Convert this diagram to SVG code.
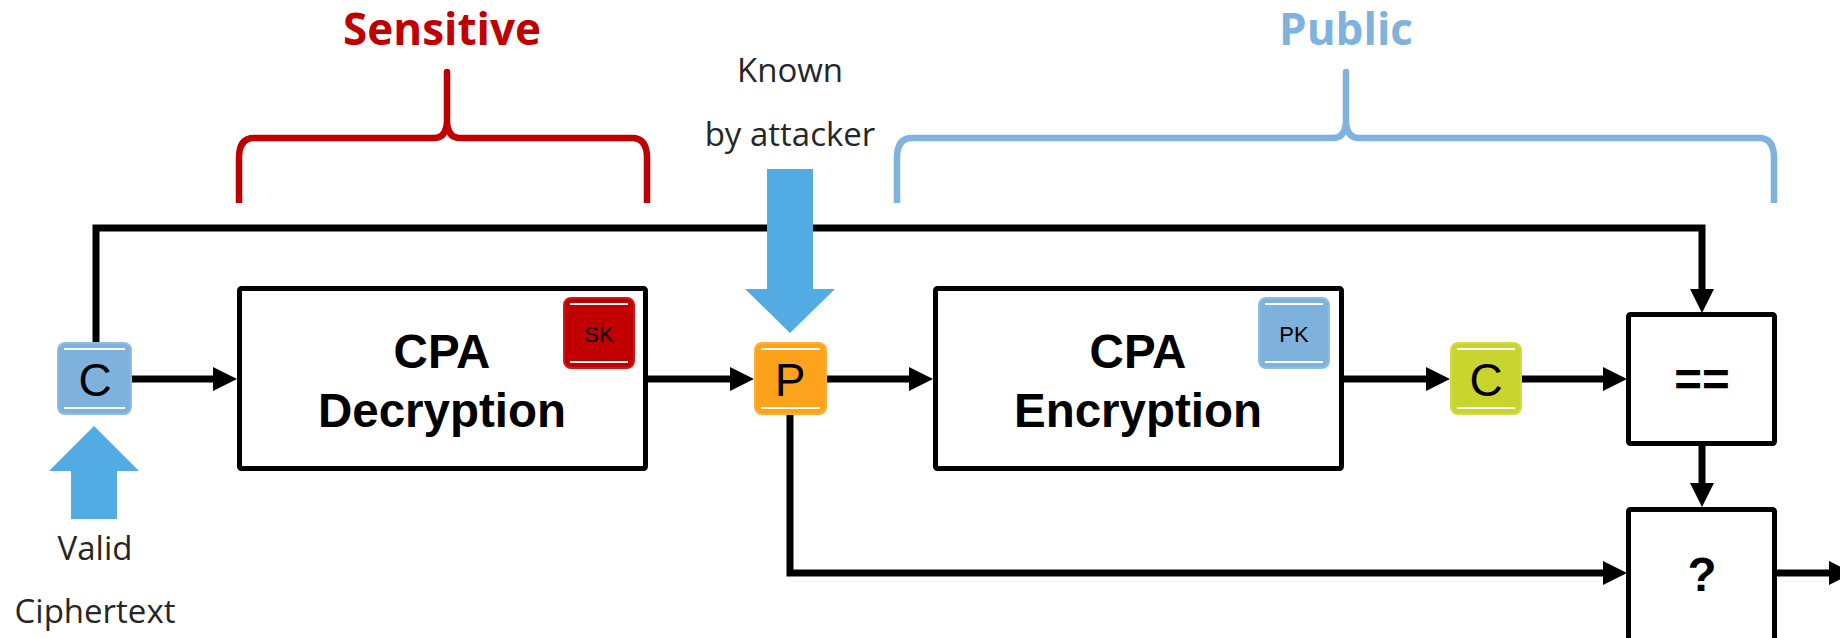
<svg xmlns="http://www.w3.org/2000/svg" width="1840" height="638" viewBox="0 0 1840 638">
<defs>
<style>
.conn{fill:none;stroke:#000;stroke-width:7;stroke-linejoin:miter}
.box{fill:#fff;stroke:#000;stroke-width:5;stroke-linejoin:round}
.big{font-family:"Liberation Sans",Arial,sans-serif;font-weight:bold;font-size:47.5px;text-anchor:middle;fill:#000}
.tok{font-family:"Liberation Sans",Arial,sans-serif;font-size:46px;text-anchor:middle;fill:#000}
.key{font-family:"Liberation Sans",Arial,sans-serif;font-size:22px;text-anchor:middle;fill:#000}
.note{font-family:"Open Sans","DejaVu Sans",sans-serif;font-size:33px;text-anchor:middle;fill:#262626}
.head{font-family:"Open Sans","DejaVu Sans",sans-serif;font-weight:bold;font-size:44px;text-anchor:middle}
.brace{fill:none;stroke-width:6.5;stroke-linejoin:round}
.wl{stroke:#fff;stroke-width:1.8}
.bluearrow{fill:#52ACE3}
</style>
<marker id="ah" markerUnits="userSpaceOnUse" markerWidth="24" markerHeight="24" refX="4" refY="12" orient="auto" viewBox="0 0 24 24">
<path d="M0,0 L24,12 L0,24 z" fill="#000"/>
</marker>
</defs>
<rect width="1840" height="638" fill="#fff"/>

<!-- braces and headings -->
<g id="sensitive">
<text class="head" x="442" y="45" fill="#C00000">Sensitive</text>
<path class="brace" stroke="#C00000" d="M239,203 V158 Q239,138 254,138 H434 Q446,138 447,122 V72 V122 Q448,138 460,138 H632 Q647,138 647,158 V203"/>
</g>
<g id="public">
<text class="head" x="1346" y="45" fill="#7FB2DC">Public</text>
<path class="brace" stroke="#7FB2DC" d="M897,203 V158 Q897,138 912,138 H1333 Q1345,138 1346,122 V72 V122 Q1347,138 1359,138 H1759 Q1774,138 1774,158 V203"/>
</g>

<!-- connectors -->
<g id="connectors">
<path class="conn" d="M96,346 V228 H1702 V293" marker-end="url(#ah)"/>
<path class="conn" d="M131,379 H217" marker-end="url(#ah)"/>
<path class="conn" d="M648,379 H734" marker-end="url(#ah)"/>
<path class="conn" d="M826,379 H913" marker-end="url(#ah)"/>
<path class="conn" d="M1344,379 H1430" marker-end="url(#ah)"/>
<path class="conn" d="M1521,379 H1607" marker-end="url(#ah)"/>
<path class="conn" d="M1702,446 V487" marker-end="url(#ah)"/>
<path class="conn" d="M790,412 V573 H1607" marker-end="url(#ah)"/>
<path class="conn" d="M1777,573 H1833" marker-end="url(#ah)"/>
</g>

<!-- inputs -->
<g id="valid-ciphertext">
<polygon class="bluearrow" points="94,426 139,471 117,471 117,519 71,519 71,471 49,471"/>
<text class="note" x="95" y="560">Valid</text>
<text class="note" x="95" y="623">Ciphertext</text>
</g>
<g id="known-by-attacker">
<text class="note" x="790" y="82">Known</text>
<text class="note" x="790" y="146">by attacker</text>
<polygon class="bluearrow" points="767,169 813,169 813,289 835,289 790,333 745,289 767,289"/>
</g>

<!-- nodes -->
<g id="c-in">
<rect x="58" y="343" width="73" height="71" rx="7" fill="#7EB2DC" stroke="#8DBDE2" stroke-width="2"/>
<line class="wl" x1="64" y1="349" x2="125" y2="349"/><line class="wl" x1="64" y1="408" x2="125" y2="408"/>
<text class="tok" x="95" y="396">C</text>
</g>
<g id="cpa-decryption">
<rect class="box" x="239.5" y="288.5" width="406" height="180" rx="2"/>
<text class="big" x="442" y="368">CPA</text>
<text class="big" x="442" y="427">Decryption</text>
</g>
<g id="sk">
<rect x="564" y="298" width="70" height="70" rx="7" fill="#C00000" stroke="#CC1A1A" stroke-width="2"/>
<line class="wl" x1="570" y1="304" x2="628" y2="304"/><line class="wl" x1="570" y1="362" x2="628" y2="362"/>
<text class="key" x="599" y="342">SK</text>
</g>
<g id="p">
<rect x="755" y="343" width="71" height="71" rx="7" fill="#FDA21B" stroke="#FFAE3A" stroke-width="2"/>
<line class="wl" x1="761" y1="349" x2="820" y2="349"/><line class="wl" x1="761" y1="408" x2="820" y2="408"/>
<text class="tok" x="790" y="396">P</text>
</g>
<g id="cpa-encryption">
<rect class="box" x="935.5" y="288.5" width="406" height="180" rx="2"/>
<text class="big" x="1138" y="368">CPA</text>
<text class="big" x="1138" y="427">Encryption</text>
</g>
<g id="pk">
<rect x="1259" y="298" width="70" height="70" rx="7" fill="#7EB2DC" stroke="#8DBDE2" stroke-width="2"/>
<line class="wl" x1="1265" y1="304" x2="1323" y2="304"/><line class="wl" x1="1265" y1="362" x2="1323" y2="362"/>
<text class="key" x="1294" y="342">PK</text>
</g>
<g id="c-out">
<rect x="1451" y="343" width="70" height="71" rx="7" fill="#CAD42E" stroke="#D2DA4A" stroke-width="2"/>
<line class="wl" x1="1457" y1="349" x2="1515" y2="349"/><line class="wl" x1="1457" y1="408" x2="1515" y2="408"/>
<text class="tok" x="1486" y="396">C</text>
</g>
<g id="equals">
<rect class="box" x="1628.5" y="314.5" width="146" height="129" rx="2"/>
<text class="big" x="1702" y="396">==</text>
</g>
<g id="check">
<rect class="box" x="1628.5" y="509.5" width="146" height="160" rx="2"/>
<text class="big" x="1702" y="591">?</text>
</g>
</svg>
